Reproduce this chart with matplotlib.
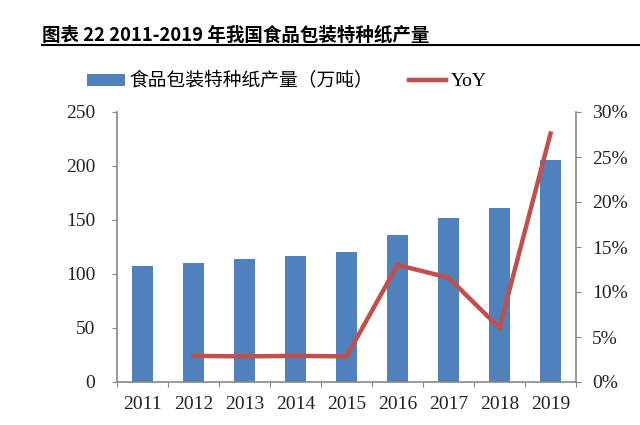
import matplotlib
matplotlib.use("Agg")
import matplotlib.pyplot as plt
from matplotlib.lines import Line2D
from matplotlib.patches import Patch
import numpy as np

years = ["2011", "2012", "2013", "2014", "2015", "2016", "2017", "2018", "2019"]
output = [107.4, 110.2, 113.9, 117.0, 120.4, 136.4, 152.1, 161.4, 205.6]
yoy_years = ["2012", "2013", "2014", "2015", "2016", "2017", "2018", "2019"]
yoy = [2.9, 2.85, 2.9, 2.85, 13.0, 11.6, 6.0, 27.6]

bar_label = "食品包装特种纸产量（万吨）"
line_label = "YoY"
title = "图表 22 2011-2019 年我国食品包装特种纸产量"

serif = ["Liberation Serif", "DejaVu Serif"]
cjk = ["Noto Sans CJK SC", "DejaVu Sans"]

fig = plt.figure(figsize=(6.4, 4.25), dpi=100)
ax = fig.add_axes([117/640, 1-382/425, (576-117)/640, (382-112)/425])
ax2 = ax.twinx()

x = np.arange(len(years))
ax.bar(x, output, width=0.41, color="#4f81bd", zorder=2)
xi = [years.index(y) for y in yoy_years]
ax2.plot(xi, yoy, color="#c0504d", lw=3.2, solid_joinstyle="miter", zorder=3)

ax.set_xlim(-0.5, len(years) - 0.5)
ax.set_ylim(0, 250)
ax.set_yticks(range(0, 251, 50))
ax2.set_ylim(0, 30)
ax2.set_yticks(range(0, 31, 5))
ax2.set_yticklabels([f"{v}%" for v in range(0, 31, 5)])

ax.set_xticks(np.arange(-0.5, len(years), 1.0), minor=False)
ax.set_xticklabels([])
ax.set_xticks(x, minor=True)
ax.set_xticklabels(years, minor=True)
spine_c = "#888888"
ax.tick_params(axis="x", which="minor", length=0, pad=10)
ax.tick_params(axis="x", which="major", length=3.6, color=spine_c, direction="out")

for a in (ax, ax2):
    for s in a.spines.values():
        s.set_visible(False)
ax.spines["left"].set_visible(True)
ax.spines["bottom"].set_visible(True)
ax2.spines["right"].set_visible(True)
for s in (ax.spines["left"], ax.spines["bottom"], ax2.spines["right"]):
    s.set_color(spine_c)
    s.set_linewidth(1.2)

ax.tick_params(axis="y", length=3.6, color=spine_c, direction="out", pad=12)
ax2.tick_params(axis="y", length=3.6, color=spine_c, direction="out", pad=8)
for lab in ax.get_yticklabels() + ax2.get_yticklabels() + ax.get_xticklabels(minor=True):
    lab.set_fontfamily(serif)
    lab.set_fontsize(14)
    lab.set_color("#222222")

fig.text(42/640, 1-35/425, title, fontfamily=cjk, fontsize=13.3, fontweight="bold",
         va="center", ha="left", color="black")
fig.add_artist(Line2D([42/640, 1.0], [1-45/425, 1-45/425], color="black", lw=1.5))

handles = [Patch(facecolor="#4f81bd", edgecolor="none"),
           Line2D([0], [0], color="#c0504d", lw=3.2)]
leg = fig.legend(handles, [bar_label, line_label], loc="center", bbox_to_anchor=(287/640, 1-81/425),
                 ncol=2, frameon=False, fontsize=13.5, handlelength=2.0, handleheight=0.6,
                 columnspacing=1.9, handletextpad=0.25)
leg.get_texts()[0].set_fontfamily(cjk)
leg.get_texts()[1].set_fontfamily(serif)
leg.get_texts()[1].set_fontsize(14)

fig.savefig("out.png", dpi=100)
